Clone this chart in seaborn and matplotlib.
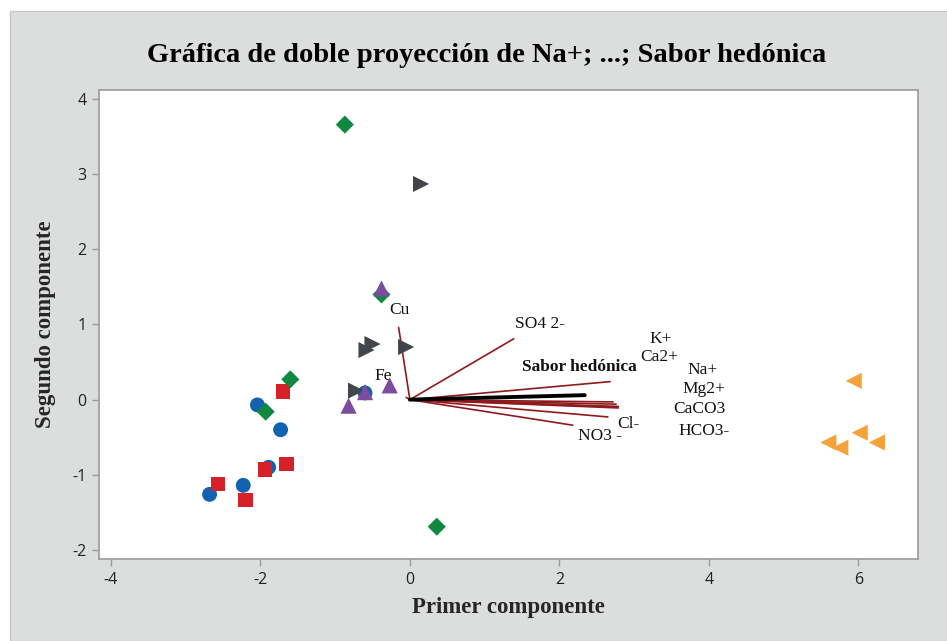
import matplotlib
matplotlib.use("Agg")
import matplotlib.pyplot as plt
import seaborn as sns
import pandas as pd
from matplotlib.patches import Rectangle

# puntuaciones por grupo (primer y segundo componente)
grupo_verde_x = [-0.87, -0.38, -1.60, -1.93, 0.36]
grupo_verde_y = [3.66, 1.40, 0.27, -0.16, -1.69]
grupo_gris_x = [0.15, -0.50, -0.58, -0.05, -0.72]
grupo_gris_y = [2.87, 0.74, 0.66, 0.70, 0.12]
grupo_morado_x = [-0.38, -0.60, -0.27, -0.82]
grupo_morado_y = [1.48, 0.10, 0.19, -0.08]
grupo_azul_x = [-0.60, -2.04, -1.73, -1.89, -2.23, -2.68]
grupo_azul_y = [0.09, -0.07, -0.40, -0.90, -1.14, -1.26]
grupo_rojo_x = [-1.70, -1.65, -1.94, -2.57, -2.20]
grupo_rojo_y = [0.11, -0.86, -0.93, -1.12, -1.33]
grupo_naranja_x = [5.94, 6.02, 5.60, 5.76, 6.25]
grupo_naranja_y = [0.25, -0.44, -0.57, -0.64, -0.57]

# cargas (vectores)
variables = ["K+", "Ca2+", "Na+", "Mg2+", "CaCO3", "HCO3-", "Cl-", "NO3 -",
             "SO4 2-", "Cu", "Fe", "Sabor hedónica"]
carga_x = [2.68, 2.72, 2.79, 2.78, 2.79, 2.76, 2.65, 2.18, 1.39, -0.15, -0.05, 2.34]
carga_y = [0.24, -0.03, -0.09, -0.10, -0.11, -0.06, -0.23, -0.34, 0.81, 0.96, 0.03, 0.06]
etiqueta_x = [3.21, 3.08, 3.71, 3.65, 3.53, 3.60, 2.77, 2.25, 1.41, -0.28, -0.48, 1.50]
etiqueta_y = [0.81, 0.57, 0.39, 0.14, -0.13, -0.42, -0.33, -0.49, 1.00, 1.19, 0.31, 0.44]

grupos = pd.DataFrame({
    "x": grupo_verde_x + grupo_gris_x + grupo_morado_x + grupo_azul_x + grupo_rojo_x + grupo_naranja_x,
    "y": grupo_verde_y + grupo_gris_y + grupo_morado_y + grupo_azul_y + grupo_rojo_y + grupo_naranja_y,
    "grupo": (["verde"] * 5 + ["gris"] * 5 + ["morado"] * 4 + ["azul"] * 6
              + ["rojo"] * 5 + ["naranja"] * 5),
})

colores = {"verde": "#11883f", "gris": "#42464a", "morado": "#7a4d9e",
           "azul": "#1262b0", "rojo": "#d6212b", "naranja": "#f6a23a"}
marcadores = {"verde": "D", "gris": ">", "morado": "^",
              "azul": "o", "rojo": "s", "naranja": "<"}
tamanos = {"verde": 85, "gris": 135, "morado": 135, "azul": 115, "rojo": 105, "naranja": 135}

sns.set_style("white")
plt.rcParams["font.family"] = ["Open Sans", "DejaVu Sans"]

fig = plt.figure(figsize=(9.47, 6.41), dpi=100, facecolor="white")
fig.patches.append(Rectangle((10 / 947, 0), 1, 1 - 11 / 641, transform=fig.transFigure,
                             facecolor="#dcdddd", edgecolor="#c8c8c8", lw=1, zorder=-1))
ax = fig.add_axes([99 / 947, 1 - 559 / 641, (918 - 99) / 947, (559 - 90) / 641])
ax.set_facecolor("white")

# vectores de carga
for i, nombre in enumerate(variables):
    negro = nombre == "Sabor hedónica"
    ax.plot([0, carga_x[i]], [0, carga_y[i]],
            color="black" if negro else "#8e1a1e",
            lw=2.8 if negro else 1.2, zorder=2)
    ax.text(etiqueta_x[i], etiqueta_y[i], nombre, family="Liberation Serif",
            fontsize=12.5, fontweight="bold" if negro else "normal",
            ha="left", va="center", color="#111111", zorder=3)

# orden de dibujo: cada grupo encima del anterior
for g in ["azul", "rojo", "verde", "gris", "morado", "naranja"]:
    sns.scatterplot(data=grupos[grupos["grupo"] == g], x="x", y="y",
                    marker=marcadores[g], color=colores[g], s=tamanos[g],
                    edgecolor="none", linewidth=0, ax=ax, zorder=4, legend=False)

ax.set_xlim(-4.16, 6.80)
ax.set_ylim(-2.12, 4.12)
ax.set_xticks([-4, -2, 0, 2, 4, 6])
ax.set_yticks([-2, -1, 0, 1, 2, 3, 4])
ax.set_xticklabels(["-4", "-2", "0", "2", "4", "6"])
ax.set_yticklabels(["-2", "-1", "0", "1", "2", "3", "4"])
for s in ax.spines.values():
    s.set_color("#9a9a9a")
    s.set_linewidth(1.2)
ax.tick_params(axis="both", direction="out", length=5, width=1, color="#9a9a9a",
               labelsize=11.5, labelcolor="#222222", bottom=True, left=True, pad=4)

ax.set_xlabel("Primer componente", family="Liberation Serif", fontsize=16.5,
              fontweight="bold", labelpad=7)
ax.set_ylabel("Segundo componente", family="Liberation Serif", fontsize=16.5,
              fontweight="bold", labelpad=12)
fig.text(487 / 947, 1 - 55 / 641, "Gráfica de doble proyección de Na+; ...; Sabor hedónica",
         family="Liberation Serif", fontsize=20.5, fontweight="bold",
         ha="center", va="center", color="black")

fig.savefig("out.png", dpi=100, facecolor=fig.get_facecolor())
